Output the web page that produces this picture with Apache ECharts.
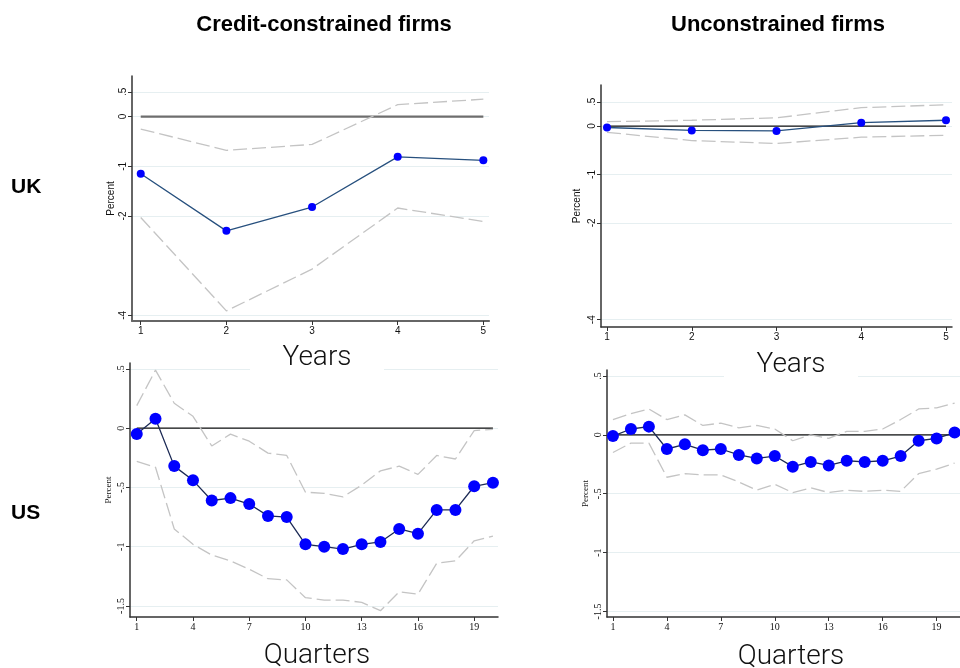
<!DOCTYPE html>
<html>
<head>
<meta charset="utf-8">
<script src="https://cdn.jsdelivr.net/npm/echarts@6/dist/echarts.min.js"></script>
<style>html,body{margin:0;padding:0;background:#fff}#c{width:960px;height:668px}</style>
</head>
<body>
<div id="c"></div>
<script>
// ---- data ----
const ukX = [1, 2, 3, 4, 5];
const ukConPoint = [-1.15, -2.30, -1.82, -0.81, -0.88];
const ukConUpper = [-0.25, -0.68, -0.56, 0.24, 0.35];
const ukConLower = [-2.03, -3.91, -3.07, -1.84, -2.11];
const ukUncPoint = [-0.03, -0.09, -0.10, 0.07, 0.12];
const ukUncUpper = [0.09, 0.12, 0.17, 0.38, 0.44];
const ukUncLower = [-0.13, -0.30, -0.36, -0.23, -0.19];

const usX = [1, 2, 3, 4, 5, 6, 7, 8, 9, 10, 11, 12, 13, 14, 15, 16, 17, 18, 19, 20];
const usConPoint = [-0.05, 0.08, -0.32, -0.44, -0.61, -0.59, -0.64, -0.74, -0.75, -0.98, -1.00, -1.02, -0.98, -0.96, -0.85, -0.89, -0.69, -0.69, -0.49, -0.46];
const usConUpper = [0.19, 0.49, 0.21, 0.10, -0.15, -0.05, -0.11, -0.21, -0.23, -0.54, -0.55, -0.58, -0.48, -0.36, -0.32, -0.39, -0.23, -0.26, -0.02, -0.01];
const usConLower = [-0.28, -0.33, -0.85, -0.98, -1.07, -1.12, -1.19, -1.27, -1.28, -1.43, -1.45, -1.45, -1.47, -1.54, -1.38, -1.40, -1.14, -1.12, -0.95, -0.91];
const usUncPoint = [-0.01, 0.05, 0.07, -0.12, -0.08, -0.13, -0.12, -0.17, -0.20, -0.18, -0.27, -0.23, -0.26, -0.22, -0.23, -0.22, -0.18, -0.05, -0.03, 0.02];
const usUncUpper = [0.13, 0.18, 0.22, 0.13, 0.17, 0.08, 0.10, 0.06, 0.08, 0.05, -0.05, 0.00, -0.03, 0.03, 0.03, 0.05, 0.13, 0.22, 0.23, 0.27];
const usUncLower = [-0.15, -0.07, -0.07, -0.36, -0.33, -0.34, -0.34, -0.40, -0.47, -0.42, -0.49, -0.45, -0.49, -0.47, -0.48, -0.47, -0.48, -0.33, -0.29, -0.24];

const ukXTicks = [1, 2, 3, 4, 5];
const ukYTicks = [0.5, 0, -1, -2, -4];
const usXTicks = [1, 4, 7, 10, 13, 16, 19];
const usYTicks = [0.5, 0, -0.5, -1, -1.5];

const colTitles = ['Credit-constrained firms', 'Unconstrained firms'];
const rowTitles = ['UK', 'US'];
const xNames = ['Years', 'Quarters'];
const yName = 'Percent';

// ---- helpers ----
function stata(v) {
  if (v === 0) return '0';
  let s = String(Math.abs(v));
  if (s.startsWith('0.')) s = s.slice(1);
  return (v < 0 ? '-' : '') + s;
}
const pairs = (xs, ys) => xs.map((x, i) => [x, ys[i]]);

const panels = [
  {grid: {left: 132, top: 76, width: 357, height: 245}, xr: [0.898, 5.066], yr: [-4.114, 0.817],
   x: ukX, p: ukConPoint, u: ukConUpper, l: ukConLower, xt: ukXTicks, yt: ukYTicks,
   font: 'Liberation Sans', sym: 8, lineCol: '#27507e', zeroCol: '#6e6e6e', zeroW: 2.2, xAxisCol: '#666', xAxisW: 2.2, nameGap: 16, nameSize: 10},
  {grid: {left: 601, top: 85, width: 351, height: 242}, xr: [0.929, 5.071], yr: [-4.15, 0.848],
   x: ukX, p: ukUncPoint, u: ukUncUpper, l: ukUncLower, xt: ukXTicks, yt: ukYTicks,
   font: 'Liberation Sans', sym: 8, lineCol: '#27507e', zeroCol: '#111', zeroW: 1.3, xAxisCol: '#333', xAxisW: 1.5, nameGap: 19, nameSize: 10},
  {grid: {left: 130, top: 363, width: 368, height: 254}, xr: [0.64, 20.27], yr: [-1.593, 0.55],
   x: usX, p: usConPoint, u: usConUpper, l: usConLower, xt: usXTicks, yt: usYTicks,
   font: 'Liberation Serif', sym: 12, lineCol: '#1c2a55', zeroCol: '#111', zeroW: 1.3, xAxisCol: '#333', xAxisW: 1.5, nameGap: 17, nameSize: 9},
  {grid: {left: 607, top: 370, width: 360, height: 247}, xr: [0.67, 20.3], yr: [-1.547, 0.551],
   x: usX, p: usUncPoint, u: usUncUpper, l: usUncLower, xt: usXTicks, yt: usYTicks,
   font: 'Liberation Serif', sym: 12, lineCol: '#1c2a55', zeroCol: '#111', zeroW: 1.3, xAxisCol: '#333', xAxisW: 1.5, nameGap: 17, nameSize: 9}
];

const grid = [], xAxis = [], yAxis = [], series = [];
panels.forEach((pn, i) => {
  grid.push(Object.assign({containLabel: false}, pn.grid));
  xAxis.push({
    type: 'value', gridIndex: i, min: pn.xr[0], max: pn.xr[1],
    axisLine: {show: true, onZero: false, lineStyle: {color: pn.xAxisCol, width: pn.xAxisW}},
    axisTick: {show: true, length: 4, customValues: pn.xt, lineStyle: {color: '#333'}},
    axisLabel: {customValues: pn.xt, fontFamily: pn.font, fontSize: 10, color: '#111', margin: 5, formatter: v => String(v)},
    splitLine: {show: false}
  });
  yAxis.push({
    type: 'value', gridIndex: i, min: pn.yr[0], max: pn.yr[1],
    name: yName, nameLocation: 'middle', nameGap: pn.nameGap, nameRotate: 90,
    nameTextStyle: {fontFamily: pn.font, fontSize: pn.nameSize, color: '#111'},
    axisLine: {show: true, onZero: false, lineStyle: {color: '#333', width: 1.5}},
    axisTick: {show: true, length: 4, customValues: pn.yt, lineStyle: {color: '#333'}},
    axisLabel: {customValues: pn.yt, rotate: 90, fontFamily: pn.font, fontSize: 10, color: '#111', margin: 4, formatter: stata},
    splitLine: {show: true, lineStyle: {color: '#e6eff1', width: 1}}
  });
  const dash = {color: '#c4c4c4', width: 1.3, type: [14, 5]};
  series.push({type: 'line', xAxisIndex: i, yAxisIndex: i, data: pairs(pn.x, pn.x.map(() => 0)),
    showSymbol: false, symbol: 'none', lineStyle: {color: pn.zeroCol, width: pn.zeroW}, z: 2, silent: true});
  series.push({type: 'line', xAxisIndex: i, yAxisIndex: i, data: pairs(pn.x, pn.u),
    symbol: 'none', lineStyle: dash, z: 3, silent: true});
  series.push({type: 'line', xAxisIndex: i, yAxisIndex: i, data: pairs(pn.x, pn.l),
    symbol: 'none', lineStyle: dash, z: 3, silent: true});
  series.push({type: 'line', xAxisIndex: i, yAxisIndex: i, data: pairs(pn.x, pn.p),
    symbol: 'circle', symbolSize: pn.sym, itemStyle: {color: '#0000ff'},
    lineStyle: {color: pn.lineCol, width: 1.3}, z: 5, silent: true});
});

const bigFont = {fontFamily: 'Roboto', fontWeight: 300, fontSize: 28, fill: '#111'};
const hdr = 'bold 22px "Liberation Sans"';
const graphic = [
  {type: 'text', x: 324, y: 25, style: {text: colTitles[0], font: hdr, fill: '#000', align: 'center', verticalAlign: 'middle'}},
  {type: 'text', x: 778, y: 25, style: {text: colTitles[1], font: hdr, fill: '#000', align: 'center', verticalAlign: 'middle'}},
  {type: 'text', x: 11, y: 187, style: {text: rowTitles[0], font: 'bold 21px "Liberation Sans"', fill: '#000', verticalAlign: 'middle'}},
  {type: 'text', x: 11, y: 513, style: {text: rowTitles[1], font: 'bold 21px "Liberation Sans"', fill: '#000', verticalAlign: 'middle'}},
  {type: 'rect', shape: {x: 250, y: 340, width: 134, height: 34}, style: {fill: '#fff'}, z: 50},
  {type: 'rect', shape: {x: 724, y: 346, width: 134, height: 34}, style: {fill: '#fff'}, z: 50},
  {type: 'text', x: 317, y: 358, z: 60, style: Object.assign({text: xNames[0], align: 'center', verticalAlign: 'middle'}, bigFont)},
  {type: 'text', x: 791, y: 365, z: 60, style: Object.assign({text: xNames[0], align: 'center', verticalAlign: 'middle'}, bigFont)},
  {type: 'text', x: 317, y: 656, z: 60, style: Object.assign({text: xNames[1], align: 'center', verticalAlign: 'middle'}, bigFont)},
  {type: 'text', x: 791, y: 657, z: 60, style: Object.assign({text: xNames[1], align: 'center', verticalAlign: 'middle'}, bigFont)}
];

const chart = echarts.init(document.getElementById('c'), null, {renderer: 'canvas'});
chart.setOption({backgroundColor: '#fff', animation: false, grid, xAxis, yAxis, series, graphic});
</script>
</body>
</html>
